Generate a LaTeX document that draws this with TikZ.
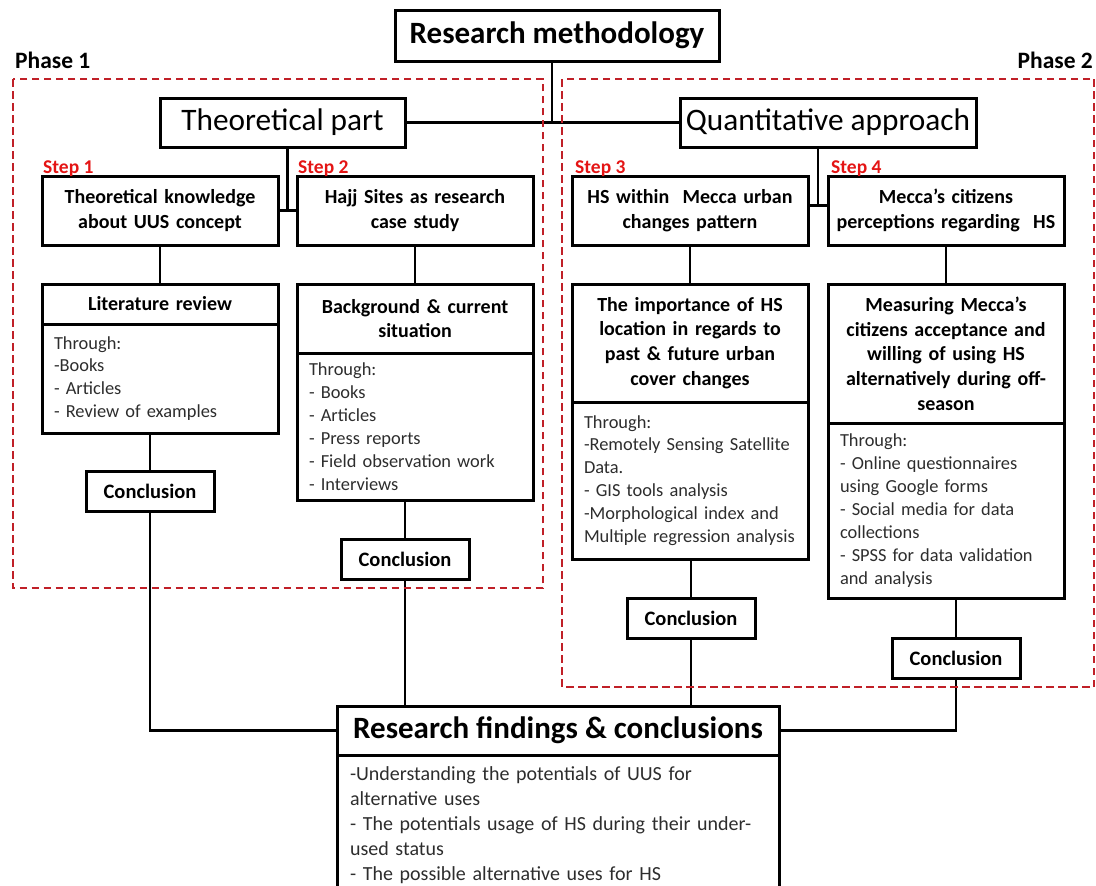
\documentclass[tikz,border=0pt]{standalone}
\usepackage{fontspec}
\setmainfont{Carlito}
\usetikzlibrary{positioning,calc}
\definecolor{phasered}{RGB}{192,32,40}
\definecolor{stepred}{RGB}{228,20,20}
\definecolor{bodygray}{RGB}{45,45,45}
\hyphenpenalty=10000

\begin{document}
\begin{tikzpicture}[
  x=1pt, y=-1pt,
  frame/.style={draw, line width=3pt, outer sep=0pt},
  titlebox/.style={frame, font=\fontsize{31}{37}\selectfont\bfseries, minimum width=324pt, minimum height=51pt, inner sep=0pt},
  partbox/.style={frame, font=\fontsize{31.3}{37}\selectfont, minimum height=49pt, inner sep=0pt},
  stepbox/.style={frame, font=\fontsize{20}{24.7}\selectfont\bfseries, align=center, text width=226pt, inner xsep=5pt, inner ysep=0pt, minimum height=69pt},
  headbox/.style={stepbox, minimum height=#1},
  bodybox/.style={frame, font=\fontsize{18.4}{22.9}\selectfont, text=bodygray, align=left, text width=212pt, inner xsep=12pt, inner ysep=0pt, minimum height=#1},
  concbox/.style={frame, font=\fontsize{20.5}{25}\selectfont\bfseries, minimum width=128pt, minimum height=40pt, inner sep=0pt},
  steplab/.style={text=stepred, font=\fontsize{19.5}{23}\selectfont\bfseries, anchor=base west, inner sep=0pt},
  phaselab/.style={font=\fontsize{23.5}{28}\selectfont\bfseries, inner sep=0pt},
  phasebox/.style={draw=phasered, line width=1.7pt, dash pattern=on 7.5pt off 4.5pt},
  link/.style={line width=2.1pt}
]
\useasboundingbox (0,0) rectangle (1096,886);

% top level
\node[titlebox] (title) at (557,35.5) {Research methodology};
\node[phaselab, anchor=base west] (ph1) at (15,68) {Phase 1};
\node[phaselab, anchor=base east] (ph2) at (1093,68) {Phase 2};
\node[partbox, minimum width=245pt] (theo) at (282.5,122.5) {Theoretical part};
\node[partbox, minimum width=296pt] (quant) at (828,122.5) {Quantitative approach};

% steps
\node[stepbox] (s1) at (160,210.5) {Theoretical knowledge\\about UUS concept};
\node[stepbox] (s2) at (415,210.5) {Hajj Sites as research\\case study};
\node[stepbox] (s3) at (690,210.5) {HS within~ Mecca urban\\changes pattern};
\node[stepbox] (s4) at (946,210.5) {Mecca’s citizens\\perceptions regarding~ HS};
\node[steplab] (l1) at (43,173) {Step 1};
\node[steplab] (l2) at (298,173) {Step 2};
\node[steplab] (l3) at (575,173) {Step 3};
\node[steplab] (l4) at (831,173) {Step 4};

% methods
\node[headbox=40pt, below=39pt of s1] (lithead) {Literature review};
\node[bodybox=109pt, below=0pt of lithead] (litbody) {Through:\\-Books\\- Articles\\- Review of examples};
\node[headbox=69pt, below=39pt of s2] (bghead) {Background \& current\\situation};
\node[bodybox=147pt, below=0pt of bghead] (bgbody) {Through:\\- Books\\- Articles\\- Press reports\\- Field observation work\\- Interviews};
\node[headbox=118pt, below=39pt of s3] (imphead) {The importance of HS\\location in regards to\\past \& future urban\\cover changes};
\node[bodybox=157pt, below=0pt of imphead] (impbody) {Through:\\-Remotely Sensing Satellite\\Data.\\- GIS tools analysis\\-Morphological index and\\Multiple regression analysis};
\node[headbox=139pt, below=39pt of s4] (meahead) {Measuring Mecca’s\\citizens acceptance and\\willing of using HS\\alternatively during off-\\season};
\node[bodybox=175pt, below=0pt of meahead] (meabody) {Through:\\- Online questionnaires\\using Google forms\\- Social media for data\\collections\\- SPSS for data validation\\and analysis};

% conclusions
\node[concbox] (c1) at (150,491) {Conclusion};
\node[concbox] (c2) at (405,559.5) {Conclusion};
\node[concbox] (c3) at (691,618) {Conclusion};
\node[concbox] (c4) at (956,658) {Conclusion};

% findings
\node[frame, font=\fontsize{31}{37}\selectfont\bfseries, minimum width=442pt, minimum height=49pt, inner sep=0pt] (reshead) at (558,730.5) {Research findings \& conclusions};
\node[bodybox=140pt, text width=416pt, inner xsep=13pt, font=\fontsize{20}{25}\selectfont, below=0pt of reshead] (resbody) {-Understanding the potentials of UUS for\\alternative uses\\- The potentials usage of HS during their under-\\used status\\- The possible alternative uses for HS};

% connectors
\coordinate (j12) at ($(s1.east)!0.5!(s2.west)$);
\coordinate (j34) at ($(s3.east)!0.5!(s4.west)+(0,-5)$);
\draw[link] ([xshift=-5pt]title.south) -- ([xshift=-5pt]title.south |- theo.east);
\draw[link] (theo.east) -- (quant.west);
\draw[link] (s1.east) -- (s2.west);
\draw[link] (s3.east |- j34) -- (s4.west |- j34);
\draw[link] (theo.south -| j12) -- (j12);
\draw[link] (quant.south -| j34) -- (j34);
\draw[link] (s1.south) -- (lithead.north);
\draw[link] (s2.south) -- (bghead.north);
\draw[link] (s3.south) -- (imphead.north);
\draw[link] (s4.south) -- (meahead.north);
\draw[link] (litbody.south -| c1) -- (c1.north);
\draw[link] (bgbody.south -| c2) -- (c2.north);
\draw[link] (impbody.south -| c3) -- (c3.north);
\draw[link] (meabody.south -| c4) -- (c4.north);
\draw[link] (c1.south) |- (reshead.west);
\draw[link] (c2.south) -- (c2.south |- reshead.north);
\draw[link] (c3.south) -- (c3.south |- reshead.north);
\draw[link] (c4.south) |- (reshead.east);

% phases
\draw[phasebox] (12.7,79) rectangle (543,588);
\draw[phasebox] (562,79) rectangle (1094,687);
\end{tikzpicture}
\end{document}
